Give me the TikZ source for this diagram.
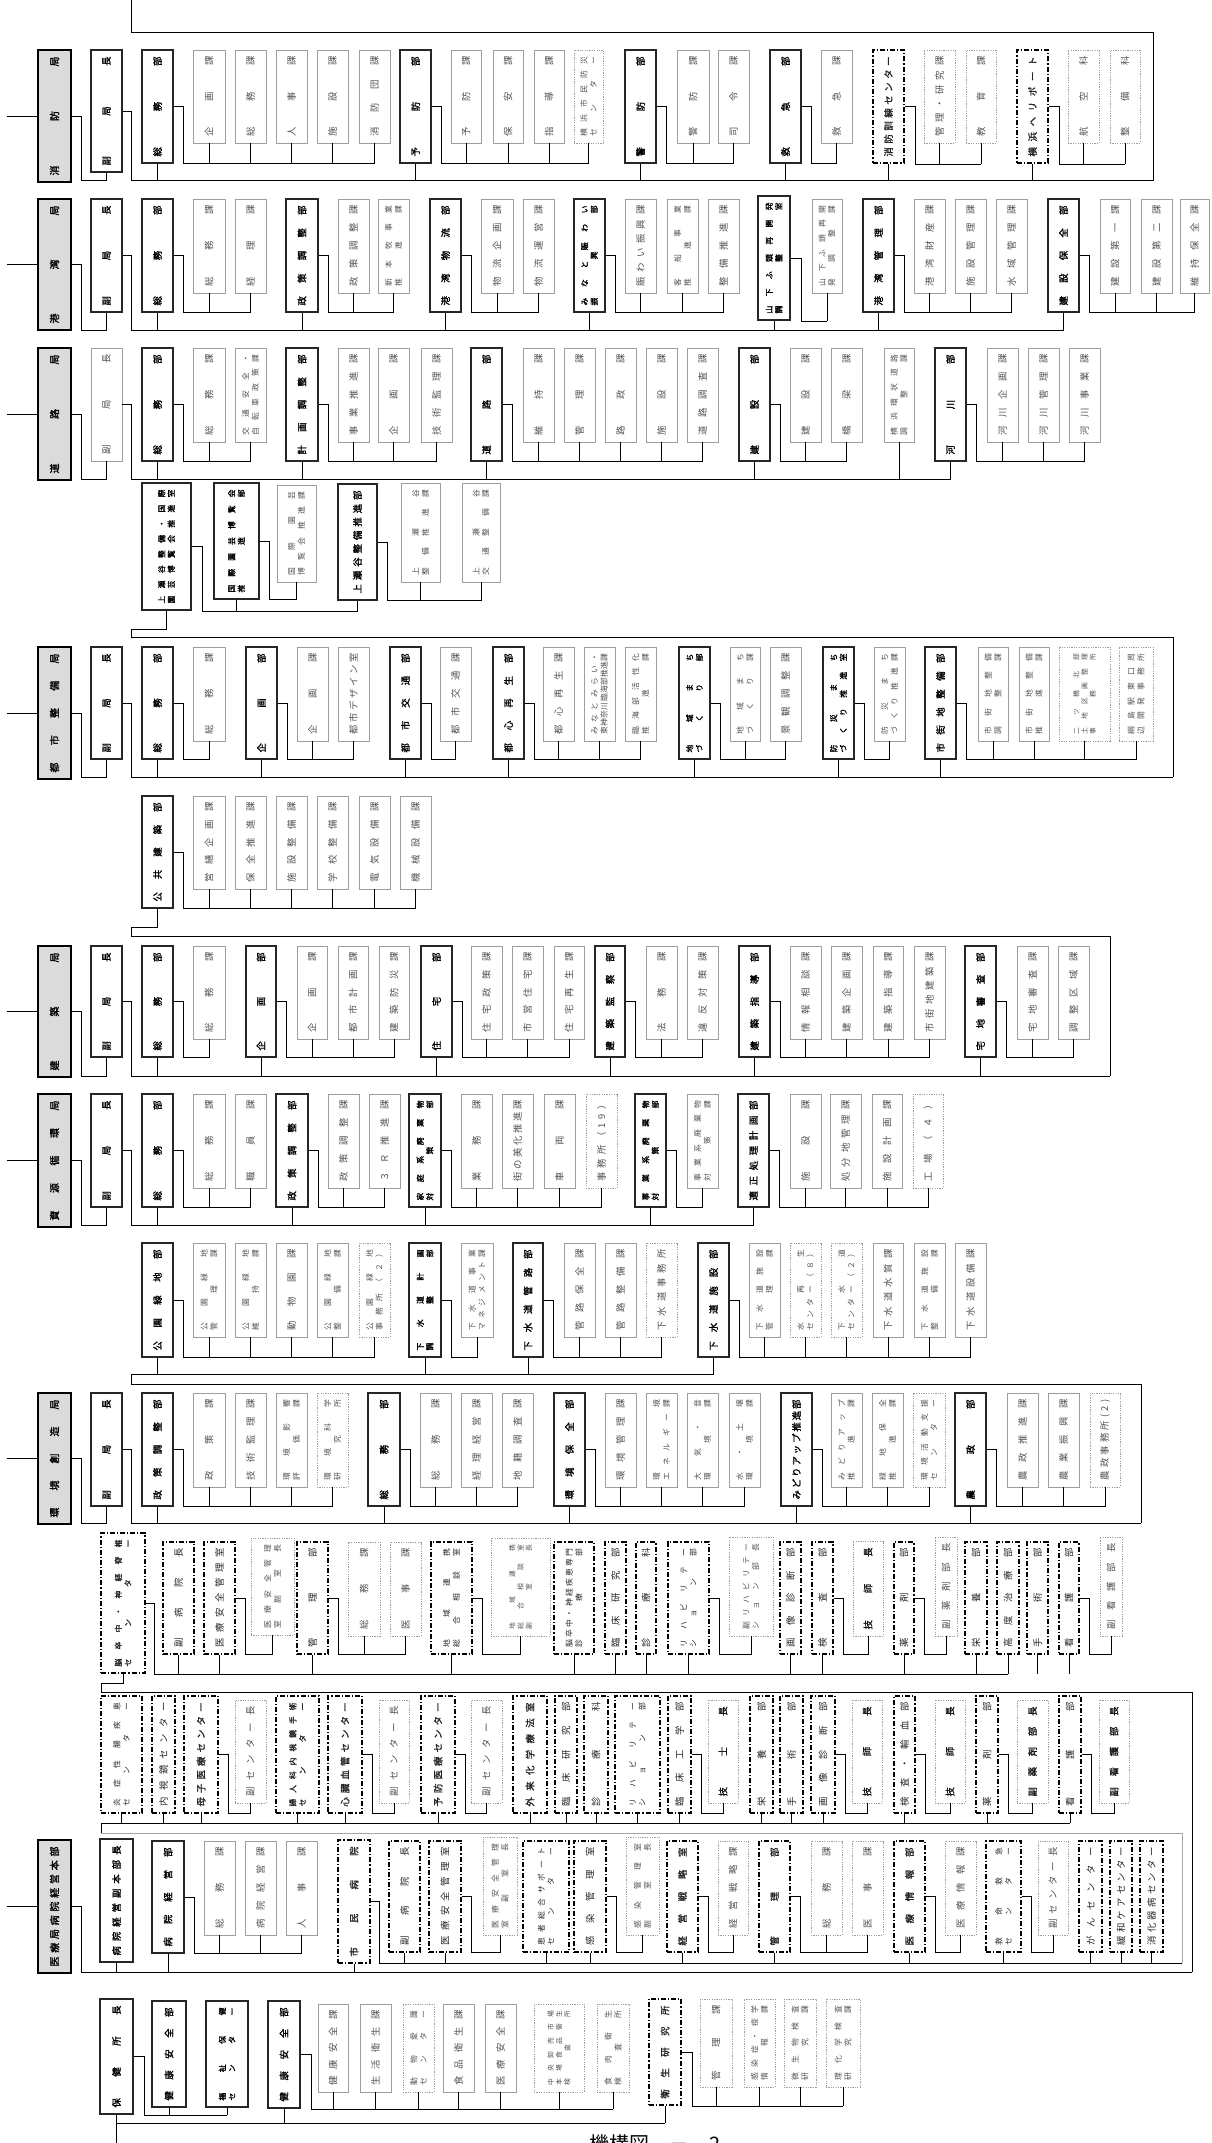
\documentclass[tikz,border=0pt]{standalone}
\usepackage{fontspec}
\setmainfont{Noto Sans CJK JP}[AutoFakeBold=1.6]
\usepackage{graphicx}
\usetikzlibrary{calc}

% vertical label: lines split by "/", every line spread over the box
\ExplSyntaxOn
\dim_new:N \l_vl_dim
\seq_new:N \l_vl_seq
\NewDocumentCommand \vlabel { m m }
  {
    \pgfmathsetlength \l_vl_dim {#1}
    \seq_set_split:Nnn \l_vl_seq { / } {#2}
    \int_compare:nNnT { \seq_count:N \l_vl_seq } = { 2 } { \fontsize{7.8}{9.6}\selectfont }
    \int_compare:nNnT { \seq_count:N \l_vl_seq } > { 2 } { \fontsize{6.8}{8.2}\selectfont }
    \rotatebox{90}
      {
        \vbox
          {
            \seq_map_inline:Nn \l_vl_seq
              { \hbox to \l_vl_dim { \tl_map_inline:nn {##1} { ####1 \hfil } \unskip } }
          }
      }
  }
\ExplSyntaxOff

% box from x1 to x2, y1 to y2
\NewDocumentCommand\orgbox{O{ka}mmmmmm}{%
  \node [#1, minimum width={#4-#3}, minimum height={#6-#5}] (#2) at ({(#3+#4)/2},{(#5+#6)/2}) {\vlabel{#6-#5-13}{#7}};}
% parent -> its sections
\newcommand\kagroup[3]{%
  \draw [ln] (#1.east) -- ++(10,0) |- (#3.south |- #1.south);
  \foreach \kid in {#2} {\draw [ln] (\kid.south) -- (\kid.south |- #1.south);}}
% boxes hanging on a bus
\newcommand\onbus[2]{%
  \foreach \kid in {#2} {\draw [ln] (\kid.south) -- (\kid.south |- #1);}}

\begin{document}
\begin{tikzpicture}[
        x=1pt, y=-1pt,
        font=\fontsize{9.4}{11}\selectfont,
        kyoku/.style={rectangle, draw=black, line width=2.8pt, fill=black!14, inner sep=0pt, font=\bfseries\fontsize{10}{11}\selectfont},
        fuku/.style={rectangle, draw=black!85, line width=1.6pt, fill=white, inner sep=0pt, font=\bfseries\fontsize{9.4}{11}\selectfont},
        fukuth/.style={fuku, line width=2.5pt},
        fukug/.style={ka},
        bu/.style={fuku},
        buth/.style={fuku, line width=2.5pt},
        ka/.style={rectangle, draw=black!38, line width=0.9pt, fill=white, inner sep=0pt, text=black!68},
        dka/.style={ka, dash pattern=on 1.2pt off 1.2pt},
        dkab/.style={dka, text=black!90, font=\bfseries\fontsize{9.4}{11}\selectfont},
        dd/.style={rectangle, draw=black, line width=1.3pt, dash pattern=on 5pt off 2pt on 1.2pt off 2pt, fill=white, inner sep=0pt, text=black!85},
        ddb/.style={dd, font=\bfseries\fontsize{9.4}{11}\selectfont},
        ddc/.style={dd, line width=2.2pt, font=\bfseries\fontsize{9.4}{11}\selectfont},
        ln/.style={line width=0.9pt, black},
        lngray/.style={line width=0.9pt, black!35}
    ]
    \path [use as bounding box, fill=white] (0,0) rectangle (1211,2143);

    % 消防局
    \orgbox[kyoku]{A0}{38}{71}{50}{182}{消防局}
    \orgbox[fuku]{Af}{91}{122}{50}{172}{副局長}
    \orgbox[bu]{A1}{142}{173}{50}{163}{総務部}
    \orgbox{A2}{193}{225}{50}{143}{企画課}
    \orgbox{A3}{235}{266}{50}{143}{総務課}
    \orgbox{A4}{276}{307}{50}{143}{人事課}
    \orgbox{A5}{317}{348}{50}{143}{施設課}
    \orgbox{A6}{359}{390}{50}{143}{消防団課}
    \orgbox[bu]{A7}{400}{431}{50}{163}{予防部}
    \orgbox{A8}{451}{481}{50}{143}{予防課}
    \orgbox{A9}{493}{523}{50}{143}{保安課}
    \orgbox{A10}{534}{564}{50}{143}{指導課}
    \orgbox[dka]{A11}{574}{603}{50}{143}{横浜市民防災/センター}
    \orgbox[bu]{A12}{625}{656}{50}{163}{警防部}
    \orgbox{A13}{677}{709}{50}{143}{警防課}
    \orgbox{A14}{718}{749}{50}{143}{司令課}
    \orgbox[bu]{A15}{770}{801}{50}{163}{救急部}
    \orgbox{A16}{821}{852}{50}{143}{救急課}
    \orgbox[ddc]{A17}{873}{904}{50}{163}{消防訓練センター}
    \orgbox[dka]{A18}{924}{955}{50}{143}{管理・研究課}
    \orgbox[dka]{A19}{966}{996}{50}{143}{教育課}
    \orgbox[ddc]{A20}{1017}{1048}{50}{163}{横浜ヘリポート}
    \orgbox[dka]{A21}{1068}{1099}{50}{143}{航空科}
    \orgbox[dka]{A22}{1110}{1140}{50}{143}{整備科}

    \coordinate (A0in) at ($(A0.west)+(-30,0)$);
    \coordinate (Ab) at (131,180);
    \coordinate (Atop) at (131,0);
    \coordinate (Afr1) at (131,32);
    \coordinate (Afr2) at (1153,32);
    \coordinate (Afr3) at (1153,180);
    \draw [ln] (A0in) -- (A0.west);
    \draw [ln] (A0.east) -- ++(9,0) |- (Af.south |- Ab) -- (Af.south);
    \draw [ln] (Af.east) -| (Ab) -- (Afr3) -- (Afr2) -- (Afr1) -- (Atop);
    \onbus{Ab}{A1,A7,A12,A15,A17,A20}
    \kagroup{A1}{A2,A3,A4,A5,A6}{A6}
    \kagroup{A7}{A8,A9,A10,A11}{A11}
    \kagroup{A12}{A13,A14}{A14}
    \kagroup{A15}{A16}{A16}
    \kagroup{A17}{A18,A19}{A19}
    \kagroup{A20}{A21,A22}{A22}

    % 港湾局
    \orgbox[kyoku]{B0}{38}{71}{199}{330}{港湾局}
    \orgbox[fuku]{Bf}{91}{122}{199}{312}{副局長}
    \orgbox[bu]{B1}{142}{173}{199}{312}{総務部}
    \orgbox{B2}{193}{225}{199}{293}{総務課}
    \orgbox{B3}{235}{266}{199}{293}{経理課}
    \orgbox[bu]{B4}{286}{318}{199}{312}{政策調整部}
    \orgbox{B5}{338}{369}{199}{293}{政策調整課}
    \orgbox{B6}{378}{409}{199}{293}{新本牧事業/推進課}
    \orgbox[bu]{B7}{430}{461}{199}{312}{港湾物流部}
    \orgbox{B8}{481}{513}{199}{293}{物流企画課}
    \orgbox{B9}{523}{554}{199}{293}{物流運営課}
    \orgbox[bu]{B10}{574}{605}{199}{312}{みなと賑わい/振興部}
    \orgbox{B11}{625}{656}{199}{293}{賑わい振興課}
    \orgbox{B12}{667}{698}{199}{293}{客船事業/推進課}
    \orgbox{B13}{708}{739}{199}{293}{整備推進課}
    \orgbox[buth]{B14}{758}{790}{196}{320}{山下ふ頭再開発/調整室}
    \orgbox{B15}{812}{842}{199}{293}{山下ふ頭再開/発調整課}
    \orgbox[bu]{B16}{863}{894}{199}{312}{港湾管理部}
    \orgbox{B17}{914}{945}{199}{293}{港湾財産課}
    \orgbox{B18}{955}{986}{199}{293}{施設管理課}
    \orgbox{B19}{996}{1027}{199}{293}{水域管理課}
    \orgbox[bu]{B20}{1048}{1079}{199}{312}{建設保全部}
    \orgbox{B21}{1100}{1130}{199}{293}{建設第一課}
    \orgbox{B22}{1141}{1172}{199}{293}{建設第二課}
    \orgbox{B23}{1180}{1209}{199}{293}{維持保全課}

    \coordinate (B0in) at ($(B0.west)+(-30,0)$);
    \coordinate (Bb) at (131,330);
    \draw [ln] (B0in) -- (B0.west);
    \draw [ln] (B0.east) -- ++(9,0) |- (Bf.south |- Bb) -- (Bf.south);
    \draw [ln] (Bf.east) -| (Bb) -- (Bb -| B20.south);
    \onbus{Bb}{B1,B4,B7,B10,B14,B16,B20}
    \kagroup{B1}{B2,B3}{B3}
    \kagroup{B4}{B5,B6}{B6}
    \kagroup{B7}{B8,B9}{B9}
    \kagroup{B10}{B11,B12,B13}{B13}
    \kagroup{B14}{B15}{B15}
    \kagroup{B16}{B17,B18,B19}{B19}
    \kagroup{B20}{B21,B22,B23}{B23}

    % 道路局
    \orgbox[kyoku]{C0}{38}{71}{348}{480}{道路局}
    \orgbox[fukug]{Cf}{91}{122}{348}{461}{副局長}
    \orgbox[bu]{C1}{142}{173}{348}{461}{総務部}
    \orgbox{C2}{193}{225}{348}{442}{総務課}
    \orgbox{C3}{235}{266}{348}{442}{交通安全・/自転車政策課}
    \orgbox[bu]{C4}{286}{318}{348}{461}{計画調整部}
    \orgbox{C5}{338}{369}{348}{442}{事業推進課}
    \orgbox{C6}{378}{409}{348}{442}{企画課}
    \orgbox{C7}{421}{452}{348}{442}{技術監理課}
    \orgbox[bu]{C8}{471}{502}{348}{461}{道路部}
    \orgbox{C9}{523}{554}{348}{442}{維持課}
    \orgbox{C10}{564}{595}{348}{442}{管理課}
    \orgbox{C11}{605}{636}{348}{442}{路政課}
    \orgbox{C12}{646}{677}{348}{442}{施設課}
    \orgbox{C13}{687}{718}{348}{442}{道路調査課}
    \orgbox[bu]{C14}{739}{770}{348}{461}{建設部}
    \orgbox{C15}{790}{821}{348}{442}{建設課}
    \orgbox{C16}{831}{862}{348}{442}{橋梁課}
    \orgbox{C17}{884}{914}{348}{442}{横浜環状道路/調整課}
    \orgbox[bu]{C18}{935}{966}{348}{461}{河川部}
    \orgbox{C19}{987}{1018}{348}{442}{河川企画課}
    \orgbox{C20}{1028}{1059}{348}{442}{河川管理課}
    \orgbox{C21}{1069}{1100}{348}{442}{河川事業課}

    \coordinate (C0in) at ($(C0.west)+(-30,0)$);
    \coordinate (Cb) at (131,479);
    \draw [ln] (C0in) -- (C0.west);
    \draw [ln] (C0.east) -- ++(9,0) |- (Cf.south |- Cb) -- (Cf.south);
    \draw [ln] (Cf.east) -| (Cb) -- (Cb -| C18.south);
    \onbus{Cb}{C1,C4,C8,C14,C17,C18}
    \kagroup{C1}{C2,C3}{C3}
    \kagroup{C4}{C5,C6,C7}{C7}
    \kagroup{C8}{C9,C10,C11,C12,C13}{C13}
    \kagroup{C14}{C15,C16}{C16}
    \kagroup{C18}{C19,C20,C21}{C21}

    % 上瀬谷整備・国際園芸博覧会推進室
    \orgbox[buth]{D1}{142}{191}{483}{610}{上瀬谷整備・国際/園芸博覧会推進室}
    \orgbox[bu]{D2}{214}{259}{483}{599}{国際園芸博覧会/推進部}
    \orgbox{D3}{277}{316}{485}{582}{国際園芸/博覧会推進課}
    \orgbox[bu]{D4}{338}{377}{484}{600}{上瀬谷整備推進部}
    \orgbox{D5}{401}{440}{483}{582}{上瀬谷/整備推進課}
    \orgbox{D6}{462}{500}{483}{582}{上瀬谷/交通整備課}

    \kagroup{D1}{D2,D4}{D4}
    \kagroup{D2}{D3}{D3}
    \kagroup{D4}{D5,D6}{D6}
    \coordinate (Dfr1) at (131,637);
    \coordinate (Dfr2) at (1173,637);
    \coordinate (Dfr3) at (1173,777);
    \draw [ln] (D1.south) -- ++(0,18) -| (Dfr1) -- (Dfr2) -- (Dfr3);

    % 都市整備局
    \orgbox[kyoku]{E0}{38}{71}{647}{779}{都市整備局}
    \orgbox[fuku]{Ef}{91}{122}{647}{759}{副局長}
    \orgbox[bu]{E1}{142}{173}{647}{759}{総務部}
    \orgbox{E2}{193}{225}{647}{741}{総務課}
    \orgbox[bu]{E3}{246}{277}{647}{759}{企画部}
    \orgbox{E4}{297}{328}{647}{741}{企画課}
    \orgbox{E5}{338}{369}{647}{741}{都市デザイン室}
    \orgbox[bu]{E6}{390}{421}{647}{759}{都市交通部}
    \orgbox{E7}{440}{471}{647}{741}{都市交通課}
    \orgbox[bu]{E8}{493}{524}{647}{759}{都心再生部}
    \orgbox{E9}{543}{574}{647}{741}{都心再生課}
    \orgbox{E10}{584}{615}{647}{741}{みなとみらい・/東神奈川臨海部推進課}
    \orgbox{E11}{625}{656}{647}{741}{臨海部活性化/推進課}
    \orgbox[bu]{E12}{679}{710}{647}{759}{地域まち/づくり部}
    \orgbox{E13}{730}{760}{647}{741}{地域まち/づくり課}
    \orgbox{E14}{770}{801}{647}{741}{景観調整課}
    \orgbox[bu]{E15}{823}{854}{647}{759}{防災まち/づくり推進室}
    \orgbox{E16}{874}{905}{647}{741}{防災まち/づくり推進課}
    \orgbox[bu]{E17}{925}{956}{647}{759}{市街地整備部}
    \orgbox{E18}{978}{1008}{647}{741}{市街地整備/調整課}
    \orgbox{E19}{1019}{1049}{647}{741}{市街地整備/推進課}
    \orgbox[dka]{E20}{1059}{1110}{647}{741}{二ツ橋北部/土地区画整理/事務所}
    \orgbox[dka]{E21}{1119}{1153}{647}{741}{綱島駅東口周/辺開発事務所}

    \coordinate (E0in) at ($(E0.west)+(-30,0)$);
    \coordinate (Eb) at (131,777);
    \draw [ln] (E0in) -- (E0.west);
    \draw [ln] (E0.east) -- ++(9,0) |- (Ef.south |- Eb) -- (Ef.south);
    \draw [ln] (Ef.east) -| (Eb) -- (Dfr3);
    \onbus{Eb}{E1,E3,E6,E8,E12,E15,E17}
    \kagroup{E1}{E2}{E2}
    \kagroup{E3}{E4,E5}{E5}
    \kagroup{E6}{E7}{E7}
    \kagroup{E8}{E9,E10,E11}{E11}
    \kagroup{E12}{E13,E14}{E14}
    \kagroup{E15}{E16}{E16}
    \kagroup{E17}{E18,E19,E20,E21}{E21}

    % 公共建築部
    \orgbox[bu]{F1}{142}{173}{796}{908}{公共建築部}
    \orgbox{F2}{193}{225}{796}{889}{営繕企画課}
    \orgbox{F3}{235}{266}{796}{889}{保全推進課}
    \orgbox{F4}{276}{307}{796}{889}{施設整備課}
    \orgbox{F5}{317}{348}{796}{889}{学校整備課}
    \orgbox{F6}{359}{390}{796}{889}{電気設備課}
    \orgbox{F7}{400}{431}{796}{889}{機械設備課}

    \kagroup{F1}{F2,F3,F4,F5,F6,F7}{F7}
    \coordinate (Ffr1) at (131,936);
    \coordinate (Ffr2) at (1110,936);
    \coordinate (Ffr3) at (1110,1076);
    \draw [ln] (F1.south) -- ++(0,19) -| (Ffr1) -- (Ffr2) -- (Ffr3);

    % 建築局
    \orgbox[kyoku]{G0}{38}{71}{946}{1077}{建築局}
    \orgbox[fuku]{Gf}{91}{122}{946}{1057}{副局長}
    \orgbox[bu]{G1}{142}{173}{946}{1057}{総務部}
    \orgbox{G2}{193}{225}{946}{1039}{総務課}
    \orgbox[bu]{G3}{246}{276}{946}{1057}{企画部}
    \orgbox{G4}{297}{327}{946}{1039}{企画課}
    \orgbox{G5}{338}{368}{946}{1039}{都市計画課}
    \orgbox{G6}{379}{409}{946}{1039}{建築防災課}
    \orgbox[bu]{G7}{421}{452}{946}{1057}{住宅部}
    \orgbox{G8}{471}{502}{946}{1039}{住宅政策課}
    \orgbox{G9}{512}{543}{946}{1039}{市営住宅課}
    \orgbox{G10}{554}{584}{946}{1039}{住宅再生課}
    \orgbox[bu]{G11}{595}{625}{946}{1057}{建築監察部}
    \orgbox{G12}{646}{677}{946}{1039}{法務課}
    \orgbox{G13}{687}{718}{946}{1039}{違反対策課}
    \orgbox[bu]{G14}{739}{770}{946}{1057}{建築指導部}
    \orgbox{G15}{790}{821}{946}{1039}{情報相談課}
    \orgbox{G16}{831}{862}{946}{1039}{建築企画課}
    \orgbox{G17}{873}{903}{946}{1039}{建築指導課}
    \orgbox{G18}{914}{945}{946}{1039}{市街地建築課}
    \orgbox[bu]{G19}{965}{996}{946}{1057}{宅地審査部}
    \orgbox{G20}{1017}{1048}{946}{1039}{宅地審査課}
    \orgbox{G21}{1058}{1089}{946}{1039}{調整区域課}

    \coordinate (G0in) at ($(G0.west)+(-30,0)$);
    \coordinate (Gb) at (131,1076);
    \draw [ln] (G0in) -- (G0.west);
    \draw [ln] (G0.east) -- ++(9,0) |- (Gf.south |- Gb) -- (Gf.south);
    \draw [ln] (Gf.east) -| (Gb) -- (Ffr3);
    \onbus{Gb}{G1,G3,G7,G11,G14,G19}
    \kagroup{G1}{G2}{G2}
    \kagroup{G3}{G4,G5,G6}{G6}
    \kagroup{G7}{G8,G9,G10}{G10}
    \kagroup{G11}{G12,G13}{G13}
    \kagroup{G14}{G15,G16,G17,G18}{G18}
    \kagroup{G19}{G20,G21}{G21}

    % 資源循環局
    \orgbox[kyoku]{H0}{38}{71}{1094}{1227}{資源循環局}
    \orgbox[fuku]{Hf}{91}{122}{1094}{1207}{副局長}
    \orgbox[bu]{H1}{142}{173}{1094}{1207}{総務部}
    \orgbox{H2}{193}{225}{1094}{1188}{総務課}
    \orgbox{H3}{235}{266}{1094}{1188}{職員課}
    \orgbox[bu]{H4}{276}{308}{1094}{1207}{政策調整部}
    \orgbox{H5}{328}{359}{1094}{1188}{政策調整課}
    \orgbox{H6}{369}{400}{1094}{1188}{３Ｒ推進課}
    \orgbox[bu]{H7}{409}{441}{1094}{1207}{家庭系廃棄物/対策部}
    \orgbox{H8}{461}{492}{1094}{1188}{業務課}
    \orgbox{H9}{502}{533}{1094}{1188}{街の美化推進課}
    \orgbox{H10}{544}{575}{1094}{1188}{車両課}
    \orgbox[dka]{H11}{586}{617}{1094}{1188}{事務所（19）}
    \orgbox[bu]{H12}{635}{666}{1094}{1207}{事業系廃棄物/対策部}
    \orgbox{H13}{687}{718}{1094}{1188}{事業系廃棄物/対策課}
    \orgbox[bu]{H14}{738}{769}{1094}{1207}{適正処理計画部}
    \orgbox{H15}{790}{821}{1094}{1188}{施設課}
    \orgbox{H16}{830}{861}{1094}{1188}{処分地管理課}
    \orgbox{H17}{872}{902}{1094}{1188}{施設計画課}
    \orgbox[dka]{H18}{913}{943}{1094}{1188}{工場（４）}

    \coordinate (H0in) at ($(H0.west)+(-30,0)$);
    \coordinate (Hb) at (131,1225);
    \draw [ln] (H0in) -- (H0.west);
    \draw [ln] (H0.east) -- ++(9,0) |- (Hf.south |- Hb) -- (Hf.south);
    \draw [ln] (Hf.east) -| (Hb) -- (Hb -| H14.south);
    \onbus{Hb}{H1,H4,H7,H12,H14}
    \kagroup{H1}{H2,H3}{H3}
    \kagroup{H4}{H5,H6}{H6}
    \kagroup{H7}{H8,H9,H10,H11}{H11}
    \kagroup{H12}{H13}{H13}
    \kagroup{H14}{H15,H16,H17,H18}{H18}

    % 公園緑地部・下水道
    \orgbox[bu]{I1}{142}{173}{1243}{1357}{公園緑地部}
    \orgbox{I2}{193}{225}{1243}{1337}{公園緑地/管理課}
    \orgbox{I3}{235}{266}{1243}{1337}{公園緑地/維持課}
    \orgbox{I4}{276}{307}{1243}{1337}{動物園課}
    \orgbox{I5}{317}{348}{1243}{1337}{公園緑地/整備課}
    \orgbox[dka]{I6}{359}{390}{1243}{1337}{公園緑地/事務所（２）}
    \orgbox[bu]{I7}{409}{441}{1243}{1357}{下水道計画/調整部}
    \orgbox{I8}{461}{493}{1243}{1337}{下水道事業/マネジメント課}
    \orgbox[bu]{I9}{513}{543}{1243}{1357}{下水道管路部}
    \orgbox{I10}{564}{595}{1243}{1337}{管路保全課}
    \orgbox{I11}{605}{636}{1243}{1337}{管路整備課}
    \orgbox[dka]{I12}{646}{677}{1243}{1337}{下水道事務所}
    \orgbox[bu]{I13}{698}{729}{1243}{1357}{下水道施設部}
    \orgbox{I14}{749}{780}{1243}{1337}{下水道施設/管理課}
    \orgbox[dka]{I15}{790}{821}{1243}{1337}{水再生/センター（８）}
    \orgbox[dka]{I16}{831}{862}{1243}{1337}{下水道/センター（２）}
    \orgbox{I17}{873}{903}{1243}{1337}{下水道水質課}
    \orgbox{I18}{914}{945}{1243}{1337}{下水道施設/整備課}
    \orgbox{I19}{955}{986}{1243}{1337}{下水道設備課}

    \coordinate (Ib) at (131,1374);
    \coordinate (Ifr1) at (131,1384);
    \coordinate (Ifr2) at (1141,1384);
    \coordinate (Ifr3) at (1141,1523);
    \draw [ln] (Ib -| I13.south) -- (Ib) -- (Ifr1) -- (Ifr2) -- (Ifr3);
    \onbus{Ib}{I1,I7,I9,I13}
    \kagroup{I1}{I2,I3,I4,I5,I6}{I6}
    \kagroup{I7}{I8}{I8}
    \kagroup{I9}{I10,I11,I12}{I12}
    \kagroup{I13}{I14,I15,I16,I17,I18,I19}{I19}

    % 環境創造局
    \orgbox[kyoku]{J0}{38}{71}{1393}{1524}{環境創造局}
    \orgbox[fuku]{Jf}{91}{122}{1393}{1506}{副局長}
    \orgbox[bu]{J1}{142}{173}{1393}{1506}{政策調整部}
    \orgbox{J2}{193}{225}{1393}{1487}{政策課}
    \orgbox{J3}{235}{266}{1393}{1487}{技術監理課}
    \orgbox{J4}{276}{307}{1393}{1487}{環境影響/評価課}
    \orgbox[dka]{J5}{317}{348}{1393}{1487}{環境科学/研究所}
    \orgbox[bu]{J6}{368}{400}{1393}{1506}{総務部}
    \orgbox{J7}{420}{451}{1393}{1487}{総務課}
    \orgbox{J8}{461}{492}{1393}{1487}{経理経営課}
    \orgbox{J9}{502}{533}{1393}{1487}{地籍調査課}
    \orgbox[bu]{J10}{554}{585}{1393}{1506}{環境保全部}
    \orgbox{J11}{605}{636}{1393}{1487}{環境管理課}
    \orgbox{J12}{646}{677}{1393}{1487}{環境/エネルギー課}
    \orgbox{J13}{687}{718}{1393}{1487}{大気・音/環境課}
    \orgbox{J14}{729}{760}{1393}{1487}{水・土壌/環境課}
    \orgbox[bu]{J15}{781}{812}{1393}{1506}{みどりアップ推進部}
    \orgbox{J16}{831}{862}{1393}{1487}{みどりアップ/推進課}
    \orgbox{J17}{872}{903}{1393}{1487}{緑地保全/推進課}
    \orgbox[dka]{J18}{913}{945}{1393}{1487}{環境活動支援/センター}
    \orgbox[bu]{J19}{955}{986}{1393}{1506}{農政部}
    \orgbox{J20}{1007}{1038}{1393}{1487}{農政推進課}
    \orgbox{J21}{1048}{1079}{1393}{1487}{農業振興課}
    \orgbox[dka]{J22}{1090}{1120}{1393}{1487}{農政事務所(2)}

    \coordinate (J0in) at ($(J0.west)+(-30,0)$);
    \coordinate (Jb) at (131,1523);
    \draw [ln] (J0in) -- (J0.west);
    \draw [ln] (J0.east) -- ++(9,0) |- (Jf.south |- Jb) -- (Jf.south);
    \draw [ln] (Jf.east) -| (Jb) -- (Ifr3);
    \onbus{Jb}{J1,J6,J10,J15,J19}
    \kagroup{J1}{J2,J3,J4,J5}{J5}
    \kagroup{J6}{J7,J8,J9}{J9}
    \kagroup{J10}{J11,J12,J13,J14}{J14}
    \kagroup{J15}{J16,J17,J18}{J18}
    \kagroup{J19}{J20,J21,J22}{J22}

    % 脳卒中・神経脊椎センター
    \orgbox[ddc]{K1}{101}{145}{1533}{1673}{脳卒中・神経脊椎/センター}
    \orgbox[dd]{K2}{163}{194}{1542}{1654}{副病院長}
    \orgbox[dd]{K3}{204}{235}{1542}{1654}{医療安全管理室}
    \orgbox[dka]{K4}{251}{294}{1538}{1635}{医療安全管理/室副室長}
    \orgbox[dd]{K5}{297}{328}{1542}{1654}{管理部}
    \orgbox[dka]{K6}{348}{380}{1542}{1636}{総務課}
    \orgbox[dka]{K7}{390}{421}{1542}{1636}{医事課}
    \orgbox[dd]{K8}{431}{472}{1542}{1654}{地域連携/総合相談室}
    \orgbox[dka]{K9}{491}{550}{1538}{1636}{地域連携/総合相談室/副室長}
    \orgbox[dd]{K10}{554}{594}{1542}{1654}{脳卒中・神経疾患専門/診療部}
    \orgbox[dd]{K11}{605}{626}{1542}{1654}{臨床研究部}
    \orgbox[dd]{K12}{636}{656}{1542}{1654}{診療科}
    \orgbox[dd]{K13}{668}{709}{1542}{1654}{リハビリテー/ション部}
    \orgbox[dka]{K14}{729}{773}{1537}{1636}{副リハビリテー/ション部長}
    \orgbox[dd]{K15}{780}{801}{1542}{1654}{画像診断部}
    \orgbox[dd]{K16}{812}{833}{1542}{1654}{検査部}
    \orgbox[dkab]{K17}{853}{883}{1541}{1636}{技師長}
    \orgbox[dd]{K18}{894}{914}{1542}{1654}{薬剤部}
    \orgbox[dka]{K19}{935}{957}{1537}{1636}{副薬剤部長}
    \orgbox[dd]{K20}{965}{987}{1542}{1654}{栄養部}
    \orgbox[dd]{K21}{997}{1019}{1542}{1654}{高度治療部}
    \orgbox[dd]{K22}{1027}{1048}{1542}{1654}{手術部}
    \orgbox[dd]{K23}{1059}{1079}{1542}{1654}{看護部}
    \orgbox[dka]{K24}{1100}{1122}{1537}{1636}{副看護部長}

    \draw [ln] (K1.east) -- ++(8,0) |- (K21.south |- K1.south);
    \onbus{K1.south}{K2,K3,K5,K8,K10,K11,K12,K13,K15,K16,K18,K20,K21,K22,K23}
    \kagroup{K3}{K4}{K4}
    \kagroup{K5}{K6,K7}{K7}
    \kagroup{K8}{K9}{K9}
    \kagroup{K13}{K14}{K14}
    \kagroup{K16}{K17}{K17}
    \kagroup{K18}{K19}{K19}
    \kagroup{K23}{K24}{K24}
    \coordinate (Kfr1) at (101,1692);
    \coordinate (Kfr2) at (1192,1692);
    \coordinate (Kfr3) at (1192,1972);
    \draw [ln] (K1.south) -- ++(0,9) -| (Kfr1) -- (Kfr2) -- (Kfr3);

    % 市民病院 センター群
    \orgbox[dd]{L1}{101}{142}{1696}{1813}{炎症性腸疾患/センター}
    \orgbox[dd]{L2}{152}{175}{1696}{1813}{内視鏡センター}
    \orgbox[ddb]{L3}{184}{218}{1696}{1813}{母子医療センター}
    \orgbox[dka]{L4}{235}{266}{1700}{1803}{副センター長}
    \orgbox[ddb]{L5}{276}{319}{1696}{1813}{婦人科内視鏡手術/センター}
    \orgbox[ddb]{L6}{328}{362}{1696}{1813}{心臓血管センター}
    \orgbox[dka]{L7}{379}{409}{1700}{1803}{副センター長}
    \orgbox[ddb]{L8}{421}{455}{1696}{1813}{予防医療センター}
    \orgbox[dka]{L9}{471}{502}{1700}{1803}{副センター長}
    \orgbox[ddb]{L10}{513}{547}{1696}{1813}{外来化学療法室}
    \orgbox[dd]{L11}{555}{577}{1696}{1813}{臨床研究部}
    \orgbox[dd]{L12}{584}{608}{1696}{1813}{診療科}
    \orgbox[dd]{L13}{615}{660}{1696}{1813}{リハビリテー/ション部}
    \orgbox[dd]{L14}{668}{691}{1696}{1813}{臨床工学部}
    \orgbox[dkab]{L15}{708}{738}{1700}{1803}{技士長}
    \orgbox[dd]{L16}{750}{773}{1696}{1813}{栄養部}
    \orgbox[dd]{L17}{780}{803}{1696}{1813}{手術部}
    \orgbox[dd]{L18}{811}{835}{1696}{1813}{画像診断部}
    \orgbox[dkab]{L19}{852}{882}{1700}{1803}{技師長}
    \orgbox[dd]{L20}{894}{915}{1696}{1813}{検査・輸血部}
    \orgbox[dkab]{L21}{935}{965}{1700}{1803}{技師長}
    \orgbox[dd]{L22}{976}{998}{1696}{1813}{薬剤部}
    \orgbox[dkab]{L23}{1017}{1048}{1700}{1803}{副薬剤部長}
    \orgbox[dd]{L24}{1059}{1081}{1696}{1813}{看護部}
    \orgbox[dkab]{L25}{1099}{1129}{1700}{1803}{副看護部長}

    \coordinate (Lb) at (101,1823);
    \coordinate (Lfr1) at (101,1833);
    \coordinate (Lfr2) at (1182,1833);
    \coordinate (Lfr3) at (1182,1963);
    \draw [ln] (Lb) -- (Lb -| L24.south);
    \draw [ln] (Lb) -- (Lfr1);
    \draw [lngray] (Lfr1) -- (Lfr2) -- (Lfr3);
    \onbus{Lb}{L1,L2,L3,L5,L6,L8,L10,L11,L12,L13,L14,L16,L17,L18,L20,L22,L24}
    \kagroup{L3}{L4}{L4}
    \kagroup{L6}{L7}{L7}
    \kagroup{L8}{L9}{L9}
    \kagroup{L14}{L15}{L15}
    \kagroup{L18}{L19}{L19}
    \kagroup{L20}{L21}{L21}
    \kagroup{L22}{L23}{L23}
    \kagroup{L24}{L25}{L25}

    % 医療局病院経営本部
    \orgbox[kyoku]{M0}{38}{71}{1840}{1973}{医療局病院経営本部}
    \orgbox[fukuth]{M1}{100}{133}{1839}{1962}{病院経営副本部長}
    \orgbox[bu]{M2}{152}{184}{1841}{1953}{病院経営部}
    \orgbox{M3}{204}{235}{1841}{1935}{総務課}
    \orgbox{M4}{245}{276}{1841}{1935}{病院経営課}
    \orgbox{M5}{286}{317}{1841}{1935}{人事課}
    \orgbox[ddc]{M6}{338}{370}{1840}{1963}{市民病院}
    \orgbox[dd]{M7}{389}{420}{1841}{1952}{副病院長}
    \orgbox[dd]{M8}{429}{461}{1841}{1952}{医療安全管理室}
    \orgbox[dka]{M9}{483}{517}{1837}{1935}{医療安全管理/室副室長}
    \orgbox[dd]{M10}{523}{569}{1841}{1952}{患者総合サポート/センター}
    \orgbox[dd]{M11}{574}{606}{1841}{1952}{感染管理室}
    \orgbox[dka]{M12}{626}{659}{1837}{1935}{感染管理室/副室長}
    \orgbox[ddb]{M13}{667}{698}{1841}{1952}{経営戦略室}
    \orgbox[dka]{M14}{718}{748}{1841}{1935}{経営戦略課}
    \orgbox[ddb]{M15}{759}{790}{1841}{1952}{管理部}
    \orgbox[dka]{M16}{811}{842}{1841}{1935}{総務課}
    \orgbox[dka]{M17}{852}{883}{1841}{1935}{医事課}
    \orgbox[ddb]{M18}{894}{925}{1841}{1952}{医療情報部}
    \orgbox[dka]{M19}{945}{976}{1841}{1935}{医療情報課}
    \orgbox[dd]{M20}{986}{1021}{1841}{1952}{救命救急/センター}
    \orgbox[dka]{M21}{1038}{1068}{1841}{1935}{副センター長}
    \orgbox[dd]{M22}{1079}{1102}{1841}{1952}{がんセンター}
    \orgbox[dd]{M23}{1110}{1132}{1841}{1952}{緩和ケアセンター}
    \orgbox[dd]{M24}{1140}{1163}{1841}{1952}{消化器病センター}

    \coordinate (M0in) at ($(M0.west)+(-30,0)$);
    \draw [ln] (M0in) -- (M0.west);
    \draw [ln] (M0.east) -- ++(9,0) |- (Kfr3);
    \onbus{Kfr3}{M1,M2,M6}
    \kagroup{M2}{M3,M4,M5}{M5}
    \draw [ln] (M6.east) -- ++(8,0) |- (Lfr3);
    \onbus{Lfr3}{M7,M8,M10,M11,M13,M15,M18,M20,M22,M23,M24}
    \kagroup{M8}{M9}{M9}
    \kagroup{M11}{M12}{M12}
    \kagroup{M13}{M14}{M14}
    \kagroup{M15}{M16,M17}{M17}
    \kagroup{M18}{M19}{M19}
    \kagroup{M20}{M21}{M21}

    % 保健所
    \orgbox[fukuth]{N1}{100}{133}{1999}{2114}{保健所長}
    \orgbox[fuku]{N2}{152}{186}{2001}{2107}{健康安全部}
    \orgbox[fuku]{N3}{206}{248}{2001}{2107}{福祉保健/センター}
    \orgbox[buth]{N4}{268}{300}{2001}{2108}{健康安全部}
    \orgbox{N5}{318}{348}{2004}{2092}{健康安全課}
    \orgbox{N6}{360}{391}{2004}{2092}{生活衛生課}
    \orgbox[dka]{N7}{403}{434}{2004}{2092}{動物愛護/センター}
    \orgbox{N8}{443}{474}{2004}{2092}{食品衛生課}
    \orgbox{N9}{485}{516}{2004}{2092}{医療安全課}
    \orgbox[dka]{N10}{534}{584}{2004}{2092}{中央卸売市場/本場食品衛生/検査所}
    \orgbox[dka]{N11}{597}{629}{2004}{2092}{食肉衛生/検査所}
    \orgbox[ddc]{N12}{649}{681}{1999}{2105}{衛生研究所}
    \orgbox[dka]{N13}{700}{732}{1999}{2087}{管理課}
    \orgbox[dka]{N14}{744}{775}{1999}{2087}{感染症・疫学/情報課}
    \orgbox[dka]{N15}{784}{816}{1999}{2087}{微生物検査/研究課}
    \orgbox[dka]{N16}{826}{860}{1999}{2087}{理化学検査/研究課}

    \coordinate (Nb) at (131,2123);
    \coordinate (Nout) at ($(N1.south)+(0,40)$);
    \draw [ln] (N1.south) -- (Nout);
    \draw [ln] (N1.south |- Nb) -- (N12.south |- Nb);
    \onbus{Nb}{N4,N12}
    \kagroup{N1}{N2,N3}{N3}
    \kagroup{N4}{N5,N6,N7,N8,N9,N10,N11}{N11}
    \kagroup{N12}{N13,N14,N15,N16}{N16}

    % page footer
    \node [anchor=north, font=\fontsize{20}{20}\selectfont] (foot) at (655,2131) {機構図　－　2};

\end{tikzpicture}
\end{document}
